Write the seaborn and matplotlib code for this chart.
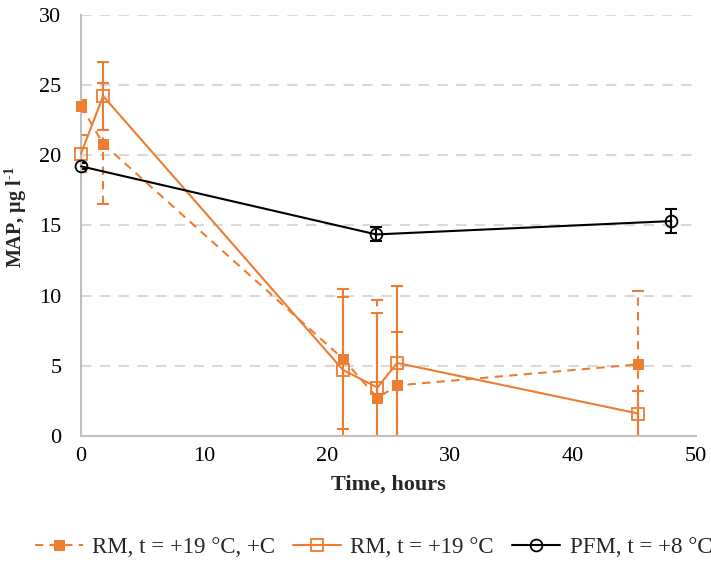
import numpy as np
import pandas as pd
import matplotlib
matplotlib.use("Agg")
import matplotlib.pyplot as plt
import seaborn as sns

# Data
hours_rm = [0, 1.8, 21.3, 24.1, 25.7, 45.3]
map_rm_c = [23.5, 20.8, 5.5, 2.7, 3.6, 5.1]
err_rm_c = [0.4, 4.3, 5.0, 7.0, 3.8, 5.2]
map_rm = [20.1, 24.2, 4.7, 3.45, 5.2, 1.6]
err_rm = [1.3, 2.4, 5.2, 5.3, 5.5, 1.6]
hours_pfm = [0, 24, 48]
map_pfm = [19.2, 14.35, 15.3]
err_pfm = [0.2, 0.5, 0.85]

labels = ["RM, t = +19 °C, +C", "RM, t = +19 °C", "PFM, t = +8 °C"]
ORANGE = "#ED7D31"

sns.set_theme(style="white")
plt.rcParams['font.family'] = ['Liberation Serif', 'DejaVu Serif']
plt.rcParams['mathtext.fontset'] = 'custom'
plt.rcParams['mathtext.rm'] = 'Liberation Serif:bold'
plt.rcParams['mathtext.bf'] = 'Liberation Serif:bold'
plt.rcParams['mathtext.default'] = 'bf'

fig = plt.figure(figsize=(7.11, 5.66), dpi=100)
ax = fig.add_axes([0.1139, 0.2297, 0.865, 0.7445])

df_c = pd.DataFrame({"x": hours_rm, "y": map_rm_c})
df_r = pd.DataFrame({"x": hours_rm, "y": map_rm})
df_p = pd.DataFrame({"x": hours_pfm, "y": map_pfm})

# error bars
eb = ax.errorbar(hours_rm, map_rm_c, yerr=err_rm_c, fmt='none', ecolor=ORANGE,
                 elinewidth=1.5, capsize=4, capthick=1.5, zorder=2)
eb[2][0].set_linestyle((0, (4, 3)))
ax.errorbar(hours_rm, map_rm, yerr=err_rm, fmt='none', ecolor=ORANGE,
            elinewidth=1.5, capsize=4, capthick=1.5, zorder=2)
ax.errorbar(hours_pfm, map_pfm, yerr=err_pfm, fmt='none', ecolor='black',
            elinewidth=1.5, capsize=4, capthick=1.5, zorder=2)

sns.lineplot(data=df_c, x="x", y="y", ax=ax, color=ORANGE, lw=1.5,
             linestyle=(0, (4, 3)), marker='s', markersize=7,
             markerfacecolor=ORANGE, markeredgecolor=ORANGE, zorder=3, clip_on=False)
sns.lineplot(data=df_r, x="x", y="y", ax=ax, color=ORANGE, lw=1.5,
             marker='s', markersize=9, markerfacecolor='none',
             markeredgecolor=ORANGE, markeredgewidth=1.3, zorder=3, clip_on=False)
sns.lineplot(data=df_p, x="x", y="y", ax=ax, color='black', lw=1.5,
             marker='o', markersize=8.5, markerfacecolor='none',
             markeredgecolor='black', markeredgewidth=1.3, zorder=4, clip_on=False)

handles = [l for l in ax.lines if l.get_marker() in ('s', 'o')]

ax.set_xlim(0, 50)
ax.set_ylim(0, 30)
ax.set_xticks(np.arange(0, 51, 10))
ax.set_yticks(np.arange(0, 31, 5))
ax.tick_params(axis='both', length=0, labelsize=16, colors='black')
ax.tick_params(axis='y', pad=14)
ax.tick_params(axis='x', pad=8)
for yv in range(5, 31, 5):
    ax.axhline(yv, color='#D9D9D9', lw=1.5, linestyle=(0, (5, 4)), zorder=0)
for s in ['top', 'right']:
    ax.spines[s].set_visible(False)
for s in ['left', 'bottom']:
    ax.spines[s].set_color('#BFBFBF')
    ax.spines[s].set_linewidth(1.5)

ax.set_xlabel("Time, hours", fontsize=16, fontweight='bold', labelpad=6)
ax.set_ylabel("MAP, µg l$^{\\text{-1}}$", fontsize=14.5, fontweight='bold')
ax.yaxis.set_label_coords(-0.084, 0.52)

fig.legend(handles, labels, loc='center', bbox_to_anchor=(0.525, 0.032), ncol=3,
           frameon=False, fontsize=16.5, handlelength=2.1, handletextpad=0.4,
           columnspacing=0.8)

fig.savefig("out.png", dpi=100)
